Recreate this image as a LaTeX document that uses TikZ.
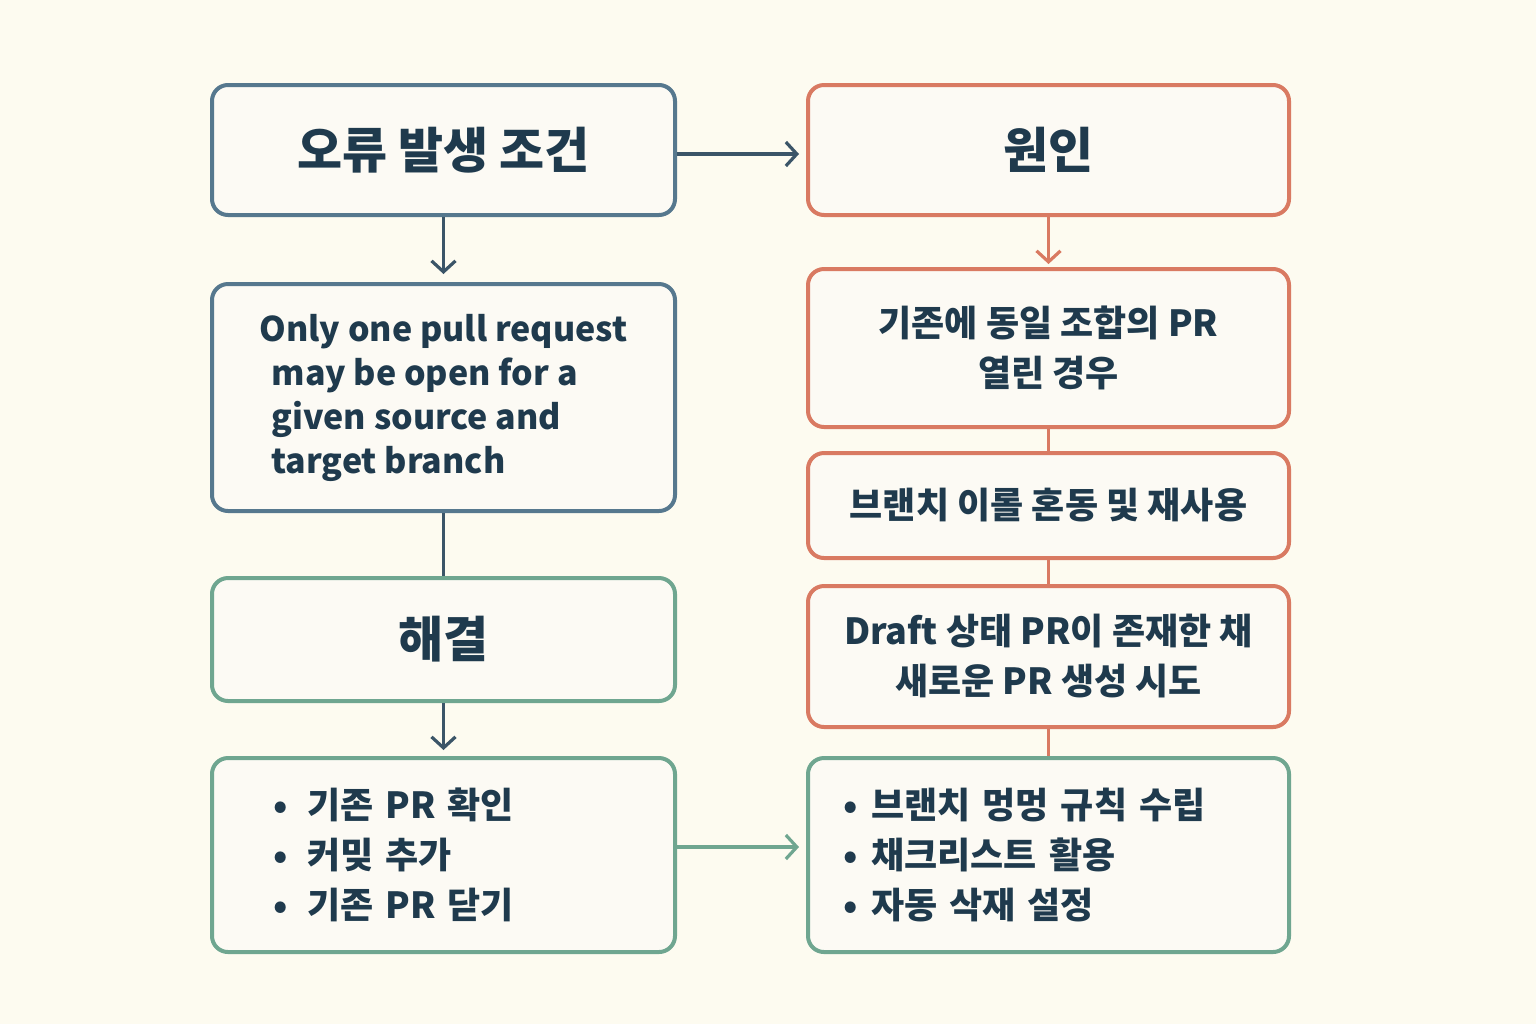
\documentclass[tikz,border=0pt]{standalone}
\usepackage{fontspec}
\setmainfont{Noto Sans CJK KR}
\usetikzlibrary{arrows.meta,positioning}
\definecolor{paper}{HTML}{FDFBF0}
\definecolor{boxfill}{HTML}{FCFAF4}
\definecolor{ink}{HTML}{1F3A4D}
\definecolor{slate}{HTML}{56788E}
\definecolor{wire}{HTML}{3B5568}
\definecolor{rust}{HTML}{D97A62}
\definecolor{sage}{HTML}{6FA690}

\begin{document}
\begin{tikzpicture}[x=0.5pt,y=-0.5pt,
    box/.style={draw, line width=2pt, rounded corners=8pt, fill=boxfill, text=ink, align=center, inner sep=0pt},
    condbox/.style={box, draw=slate, minimum width=231.5pt},
    causebox/.style={box, draw=rust, minimum width=240.5pt},
    fixbox/.style={box, draw=sage},
    title/.style={font=\bfseries\fontsize{24.5}{29}\selectfont},
    body/.style={font=\bfseries\fontsize{18}{25}\selectfont},
    link/.style={line width=1.6pt},
    flow/.style={link, ->, >={Straight Barb[length=5.5pt,width=12pt]}}]
        \fill[paper] (0,0) rectangle (1536,1024);
        % Kiri: kondisi dan solusi
        \node[condbox, title, minimum height=65pt] (cond) at (443.5,150) {오류 발생 조건};
        \node[condbox, minimum height=113.5pt, align=left, font=\bfseries\fontsize{17}{22}\selectfont] (msg) at (443.5,397.5)
            {Only one pull request\\\hspace*{6pt}may be open for a\\\hspace*{6pt}given source and\\\hspace*{6pt}target branch};
        \node[fixbox, title, minimum width=231.5pt, minimum height=61.5pt] (fix) at (443.5,639.5) {해결};
        \node[fixbox, body, minimum width=231.5pt, minimum height=97pt, text width=170.5pt, align=left] (steps) at (443.5,855)
            {•\hspace{10pt}기존 PR 확인\\•\hspace{10pt}커밎 추가\\•\hspace{10pt}기존 PR 닫기};
        % Kanan: penyebab
        \node[causebox, title, minimum height=65pt] (cause) at (1048.5,150) {원인};
        \node[causebox, body, minimum height=79pt] (same) at (1048.5,348) {기존에 동일 조합의 PR\\열린 경우};
        \node[causebox, body, minimum height=52.5pt] (name) at (1048.5,505.5) {브랜치 이롤 혼동 및 재사용};
        \node[causebox, body, minimum height=70.5pt] (draft) at (1048.5,656.5) {Draft 상태 PR이 존재한 채\\새로운 PR 생성 시도};
        \node[fixbox, body, minimum width=240.5pt, minimum height=97pt, text width=205.5pt, align=left] (rules) at (1048.5,855)
            {•\hspace{7pt}브랜치 멍멍 규칙 수립\\•\hspace{7pt}채크리스트 활용\\•\hspace{7pt}자동 삭재 설정};
        % Panah
        \draw[flow, wire, shorten >=3.5pt] ([yshift=-2pt]cond.east) -- ([yshift=-2pt]cause.west);
        \draw[flow, wire, shorten >=4pt] (cond.south) -- (msg.north);
        \draw[link, wire] (msg.south) -- (fix.north);
        \draw[flow, wire, shorten >=3pt] (fix.south) -- (steps.north);
        \draw[flow, rust, shorten >=1.5pt] (cause.south) -- (same.north);
        \draw[link, rust] (same.south) -- (name.north);
        \draw[link, rust] (name.south) -- (draft.north);
        \draw[link, rust] (draft.south) -- (rules.north);
        \draw[flow, sage, shorten >=3.5pt] ([yshift=4pt]steps.east) -- ([yshift=4pt]rules.west);
\end{tikzpicture}
\end{document}
